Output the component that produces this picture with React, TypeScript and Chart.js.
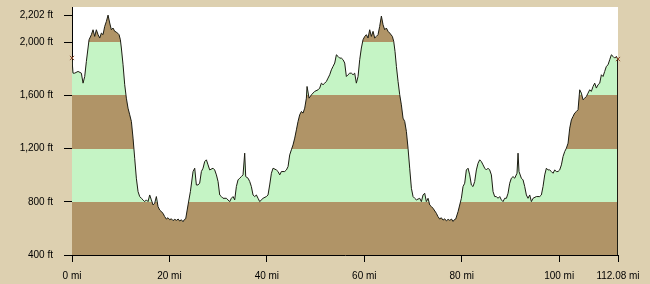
import { useEffect, useRef } from "react";
import { Chart, registerables } from "chart.js";

Chart.register(...registerables);

// Distance along the route (miles)
const DISTANCE_MI = [
  0, 0.21, 0.55, 1.24, 1.92, 2.27, 2.61, 2.95, 3.5, 3.98, 4.32, 4.66, 5.0, 5.35, 5.69, 6.03, 6.37, 6.71, 7.06, 7.4,
  7.74, 8.08, 8.42, 8.77, 9.11, 9.66, 9.93, 10.13, 10.48, 10.82, 11.16, 11.5, 11.85, 12.19, 12.53, 12.87, 13.21, 13.56, 13.9, 14.24,
  14.58, 14.92, 15.27, 15.61, 15.95, 16.29, 16.64, 16.98, 17.32, 17.66, 18.0, 18.69, 19.0, 19.37, 19.7, 20.06, 20.4, 20.74, 21.1, 21.43,
  21.8, 22.11, 22.45, 22.79, 23.1, 23.34, 23.82, 24.3, 24.85, 25.19, 25.53, 25.87, 26.21, 26.56, 26.9, 27.24, 27.59, 27.93, 28.27, 28.95,
  29.29, 29.64, 29.98, 30.32, 30.66, 31.0, 31.69, 32.37, 32.71, 33.06, 33.4, 33.74, 34.08, 34.43, 34.77, 35.11, 35.45, 35.66, 36.14, 36.48,
  36.82, 37.16, 37.51, 37.85, 38.19, 38.53, 39.22, 39.9, 40.24, 40.58, 40.93, 41.27, 41.95, 42.3, 42.64, 42.98, 43.66, 44.01, 44.35, 44.69,
  45.03, 45.37, 45.72, 46.06, 46.4, 46.74, 47.09, 47.43, 47.77, 48.11, 48.25, 48.66, 49.14, 49.82, 50.51, 50.85, 51.19, 51.53, 51.88, 52.22,
  52.56, 52.9, 53.24, 53.59, 53.93, 54.27, 54.61, 54.95, 55.3, 55.64, 55.98, 56.32, 56.66, 57.01, 57.35, 57.69, 58.03, 58.37, 58.72, 59.06,
  59.4, 59.74, 60.09, 60.43, 60.77, 61.11, 61.45, 61.8, 62.14, 62.48, 62.82, 63.16, 63.51, 63.85, 64.19, 64.53, 64.88, 65.22, 65.76, 66.04,
  66.31, 66.59, 66.93, 67.27, 67.61, 67.95, 68.3, 68.64, 68.98, 69.32, 69.67, 70.01, 70.35, 70.69, 71.38, 71.72, 72.06, 72.4, 72.74, 73.09,
  73.43, 73.77, 74.11, 74.8, 75.1, 75.48, 75.8, 76.17, 76.5, 76.85, 77.2, 77.54, 77.9, 78.22, 78.5, 78.77, 79.25, 79.93, 80.27, 80.61,
  80.95, 81.3, 81.64, 81.98, 82.32, 82.66, 83.01, 83.35, 83.69, 84.03, 84.38, 84.72, 85.06, 85.4, 85.74, 86.09, 86.43, 86.77, 87.11, 87.45,
  87.8, 88.14, 88.48, 88.82, 89.17, 89.51, 89.85, 90.19, 90.53, 90.88, 91.35, 91.56, 91.76, 92.24, 92.59, 92.93, 93.27, 93.61, 93.96, 94.3,
  94.64, 95.32, 96.01, 96.35, 96.69, 97.04, 97.38, 97.72, 98.06, 98.4, 98.75, 99.09, 99.43, 99.77, 100.11, 100.46, 100.8, 101.14, 101.48, 101.83,
  102.17, 102.51, 102.85, 103.19, 103.54, 103.88, 104.22, 104.56, 104.9, 105.25, 105.59, 105.93, 106.27, 106.61, 106.96, 107.3, 107.64, 107.98, 108.33, 108.67,
  109.01, 109.35, 109.69, 110.04, 110.38, 110.72, 111.06, 111.41, 111.75, 112.08,
];

// Elevation (feet)
const ELEVATION_FT = [
  1870, 1766, 1766, 1779, 1766, 1691, 1741, 1854, 2017, 2055, 2092, 2042, 2092, 2055, 2030, 2067, 2055, 2117, 2155, 2202,
  2143, 2092, 2105, 2080, 2075, 2055, 2017, 1955, 1829, 1679, 1578, 1503, 1453, 1403, 1278, 1127, 977, 876, 839, 826,
  814, 801, 814, 801, 851, 814, 776, 789, 839, 764, 738, 713, 690, 670, 680, 665, 672, 658, 668, 660,
  670, 655, 665, 650, 668, 672, 776, 876, 1027, 1052, 926, 926, 940, 1027, 1052, 1102, 1115, 1077, 1039, 1052,
  1039, 1002, 952, 851, 839, 826, 826, 801, 826, 839, 814, 914, 964, 977, 989, 1002, 1165, 989, 977, 952,
  914, 851, 839, 851, 826, 801, 826, 839, 851, 926, 1014, 1052, 1039, 1027, 1002, 1027, 1027, 1039, 1064, 1152,
  1190, 1227, 1278, 1340, 1403, 1453, 1478, 1466, 1503, 1578, 1666, 1578, 1603, 1629, 1641, 1654, 1691, 1679, 1691, 1704,
  1729, 1754, 1791, 1817, 1842, 1904, 1892, 1879, 1879, 1867, 1842, 1741, 1754, 1766, 1766, 1754, 1766, 1691, 1741, 1867,
  1955, 2017, 2042, 2055, 2030, 2092, 2042, 2080, 2030, 2042, 2055, 2117, 2195, 2130, 2092, 2105, 2080, 2067, 2042, 2005,
  1929, 1817, 1704, 1604, 1528, 1428, 1403, 1328, 1202, 1052, 901, 839, 826, 814, 826, 801, 851, 864, 801, 826,
  776, 764, 751, 713, 690, 670, 680, 662, 672, 656, 668, 660, 670, 652, 666, 670, 726, 826, 914, 939,
  1039, 1052, 1002, 926, 914, 952, 1039, 1089, 1115, 1102, 1077, 1052, 1039, 1052, 1039, 1002, 876, 839, 839, 826,
  839, 814, 801, 826, 826, 864, 939, 977, 989, 977, 1014, 1165, 1027, 977, 964, 914, 851, 826, 851, 801,
  826, 839, 839, 851, 914, 1002, 1052, 1039, 1039, 1027, 1014, 1039, 1027, 1027, 1039, 1077, 1140, 1177, 1202, 1240,
  1353, 1415, 1441, 1466, 1478, 1491, 1641, 1616, 1566, 1578, 1591, 1616, 1641, 1629, 1666, 1691, 1654, 1679, 1691, 1754,
  1741, 1779, 1817, 1829, 1867, 1904, 1892, 1879, 1892, 1867,
];

const X_TICKS = [0, 20, 40, 60, 80, 100, 112.08];
const Y_TICKS = [400, 800, 1200, 1600, 2000, 2202];
const X_MAX = 112.08;
const Y_MIN = 400;
const Y_MAX = 2263;
const BAND_LIMITS_FT = [800, 1200, 1600, 2000];
const MARKER_MI = [0, 112.08];
const MARKER_FT = [1880, 1872];

const TAN = "#DDD0B0";
const BROWN = "#B09467";
const GREEN = "#C5F4C5";
const LINE = "#1C1C12";
const MARKER = "#8C4A2C";
const FONT = { family: "'Liberation Sans', Arial, sans-serif", size: 10 };

const bandFill = (context: any) => {
  const chart = context.chart;
  const { ctx, chartArea, scales } = chart;
  if (!chartArea || !scales.y) return BROWN;
  const y = scales.y;
  const bottom = y.getPixelForValue(Y_MIN);
  const top = y.getPixelForValue(Y_MAX);
  const g = ctx.createLinearGradient(0, bottom, 0, top);
  const colors = [BROWN, GREEN, BROWN, GREEN, BROWN];
  let prev = 0;
  BAND_LIMITS_FT.forEach((v, i) => {
    const off = Math.min(1, Math.max(0, (bottom - y.getPixelForValue(v)) / (bottom - top)));
    g.addColorStop(prev, colors[i]);
    g.addColorStop(off, colors[i]);
    prev = off;
  });
  g.addColorStop(prev, colors[4]);
  g.addColorStop(1, colors[4]);
  return g;
};

const framePlugin = {
  id: "frame",
  beforeDraw(chart: any) {
    const { ctx, width, height, chartArea: a } = chart;
    ctx.save();
    ctx.fillStyle = TAN;
    ctx.fillRect(0, 0, width, height);
    ctx.fillStyle = "#FFFFFF";
    ctx.fillRect(a.left, a.top, a.right - a.left, a.bottom - a.top);
    ctx.restore();
  },
  afterDatasetsDraw(chart: any) {
    const meta = chart.getDatasetMeta(0);
    const pts = meta.data;
    if (!pts || !pts.length) return;
    const last = pts[pts.length - 1];
    const { ctx, chartArea: a } = chart;
    ctx.save();
    ctx.strokeStyle = LINE;
    ctx.lineWidth = 1;
    ctx.beginPath();
    ctx.moveTo(Math.round(last.x) - 0.5, last.y);
    ctx.lineTo(Math.round(last.x) - 0.5, a.bottom);
    ctx.stroke();
    ctx.restore();
  },
};

export default function App() {
  const ref = useRef<HTMLCanvasElement | null>(null);

  useEffect(() => {
    document.body.style.margin = "0";
    if (!ref.current) return;
    const profile = DISTANCE_MI.map((x, i) => ({ x, y: ELEVATION_FT[i] }));
    const markers = MARKER_MI.map((x, i) => ({ x, y: MARKER_FT[i] }));
    const chart = new Chart(ref.current, {
      type: "line",
      data: {
        datasets: [
          {
            data: profile,
            borderColor: LINE,
            borderWidth: 1,
            pointRadius: 0,
            tension: 0,
            fill: "start",
            backgroundColor: bandFill,
            order: 2,
          },
          {
            data: markers,
            showLine: false,
            pointStyle: "crossRot",
            pointRadius: 3,
            pointBorderWidth: 1,
            pointBorderColor: MARKER,
            borderColor: MARKER,
            fill: false,
            clip: false,
            order: 1,
          } as any,
        ],
      },
      options: {
        animation: false,
        responsive: false,
        devicePixelRatio: 1,
        layout: { padding: { top: 7, right: 32, left: 0, bottom: 0 } },
        plugins: { legend: { display: false }, tooltip: { enabled: false } },
        scales: {
          x: {
            type: "linear",
            min: 0,
            max: X_MAX,
            afterBuildTicks: (s: any) => {
              s.ticks = X_TICKS.map((value) => ({ value }));
            },
            afterFit: (s: any) => {
              s.height = 29;
              s.paddingLeft = 0;
              s.paddingRight = 0;
            },
            grid: { drawOnChartArea: false, drawTicks: true, tickLength: 7, color: "#000" },
            border: { display: true, color: "#000", width: 1 },
            ticks: {
              callback: (v: any) => `${v} mi`,
              color: "#000",
              font: FONT,
              padding: 8,
              maxRotation: 0,
              autoSkip: false,
            },
          },
          y: {
            type: "linear",
            min: Y_MIN,
            max: Y_MAX,
            afterBuildTicks: (s: any) => {
              s.ticks = Y_TICKS.map((value) => ({ value }));
            },
            afterFit: (s: any) => {
              s.width = 72;
              s.paddingTop = 0;
              s.paddingBottom = 0;
            },
            grid: { drawOnChartArea: false, drawTicks: true, tickLength: 8, color: "#000" },
            border: { display: true, color: "#000", width: 1 },
            ticks: {
              callback: (v: any) => `${Number(v).toLocaleString("en-US")} ft`,
              color: "#000",
              font: FONT,
              padding: 11,
              autoSkip: false,
            },
          },
        },
      },
      plugins: [framePlugin],
    });
    return () => chart.destroy();
  }, []);

  return (
    <div style={{ width: 650, height: 284 }}>
      <canvas ref={ref} width={650} height={284} style={{ display: "block" }} />
    </div>
  );
}
